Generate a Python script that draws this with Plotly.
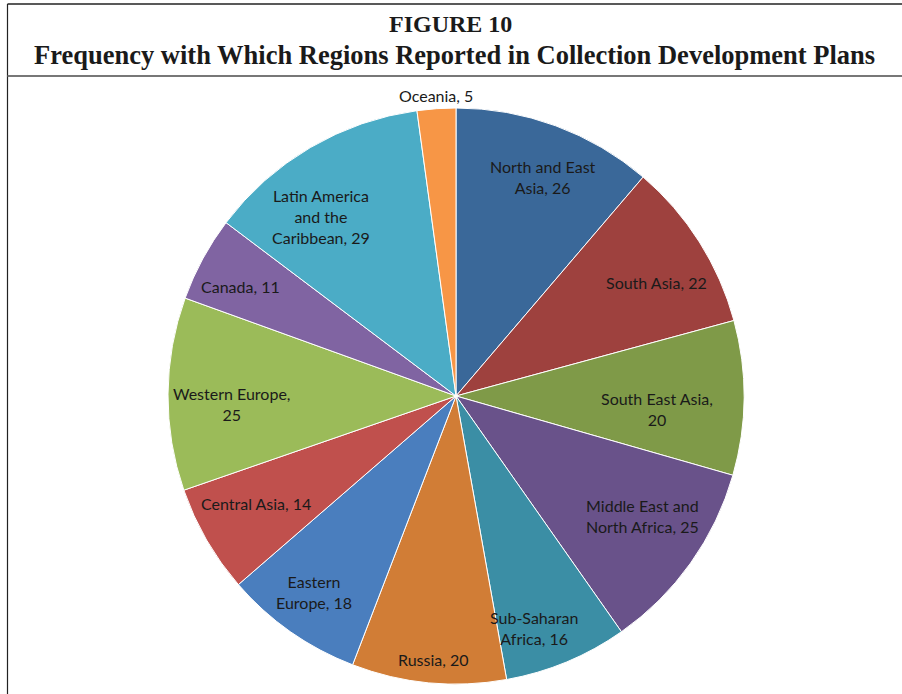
import math
import plotly.graph_objects as go

regions = ["North and East Asia", "South Asia", "South East Asia",
           "Middle East and North Africa", "Sub-Saharan Africa", "Russia",
           "Eastern Europe", "Central Asia", "Western Europe", "Canada",
           "Latin America and the Caribbean", "Oceania"]
counts = [26, 22, 20, 25, 16, 20, 18, 14, 25, 11, 29, 5]
label_texts = ["North and East<br>Asia, 26", "South Asia, 22", "South East Asia,<br>20",
               "Middle East and<br>North Africa, 25", "Sub-Saharan<br>Africa, 16", "Russia, 20",
               "Eastern<br>Europe, 18", "Central Asia, 14", "Western Europe,<br>25", "Canada, 11",
               "Latin America<br>and the<br>Caribbean, 29", "Oceania, 5"]
colors = ["#3A6899", "#9E413E", "#7F9A48", "#69528A", "#3B8EA5", "#D17D36",
          "#4A7EBE", "#C0504D", "#9BBB59", "#8064A2", "#4BACC6", "#F79646"]

# label placement (styling): angle offset from slice middle (deg), radial fraction
ang_off = [1.4, 2.8, 3.3, -2.6, 3.9, -0.5, 0.9, 1.7, -2.4, -1.6, -6.6, 0.0]
rad_frac = [0.82, 0.80, 0.70, 0.77, 0.85, 0.92, 0.84, 0.79, 0.78, 0.84, 0.78, 1.045]

W, H = 902, 694
CX, CY, R = 456, 396, 288


def px_x(x):
    return x / W


def px_y(y):
    return 1 - y / H


fig = go.Figure(go.Pie(
    labels=regions, values=counts, sort=False, direction="clockwise", rotation=0,
    marker=dict(colors=colors, line=dict(color="white", width=1)),
    textinfo="none", hoverinfo="label+value",
    domain=dict(x=[(CX - R) / W, (CX + R) / W], y=[(H - CY - R) / H, (H - CY + R) / H]),
    showlegend=False,
))

total = sum(counts)
cum = 0
annotations = []
for i, v in enumerate(counts):
    mid = (cum + v / 2) / total * 360 + ang_off[i]
    cum += v
    a = math.radians(mid)
    px = CX + rad_frac[i] * R * math.sin(a)
    py = CY - rad_frac[i] * R * math.cos(a)
    annotations.append(dict(x=px_x(px), y=px_y(py), xref="paper", yref="paper",
                            text=label_texts[i], showarrow=False,
                            font=dict(family="Lato", size=16, color="#1a1a1a"),
                            xanchor="center", yanchor="middle", align="center"))

annotations.append(dict(x=px_x(450), y=px_y(24), xref="paper", yref="paper",
                        text="<b>FIGURE 10</b>", showarrow=False,
                        font=dict(family="Liberation Serif", size=24, color="#1a1a1a"),
                        xanchor="center", yanchor="middle"))
annotations.append(dict(x=px_x(455), y=px_y(55), xref="paper", yref="paper",
                        text="<b>Frequency with Which Regions Reported in Collection Development Plans</b>",
                        showarrow=False,
                        font=dict(family="Liberation Serif", size=26.5, color="#1a1a1a"),
                        xanchor="center", yanchor="middle"))

shapes = [
    dict(type="line", xref="paper", yref="paper", x0=px_x(7.5), x1=1, y0=px_y(4), y1=px_y(4),
         line=dict(color="#222222", width=1.5)),
    dict(type="line", xref="paper", yref="paper", x0=px_x(7.5), x1=px_x(7.5), y0=px_y(4), y1=0,
         line=dict(color="#222222", width=1.2)),
    dict(type="line", xref="paper", yref="paper", x0=px_x(7.5), x1=1, y0=px_y(76), y1=px_y(76),
         line=dict(color="#777777", width=2)),
]

fig.update_layout(width=W, height=H, margin=dict(l=0, r=0, t=0, b=0),
                  paper_bgcolor="white", plot_bgcolor="white",
                  annotations=annotations, shapes=shapes)
fig.write_html("out.html", config={"displayModeBar": False},
               post_script="document.body.style.margin='0';document.body.style.overflow='hidden';")
